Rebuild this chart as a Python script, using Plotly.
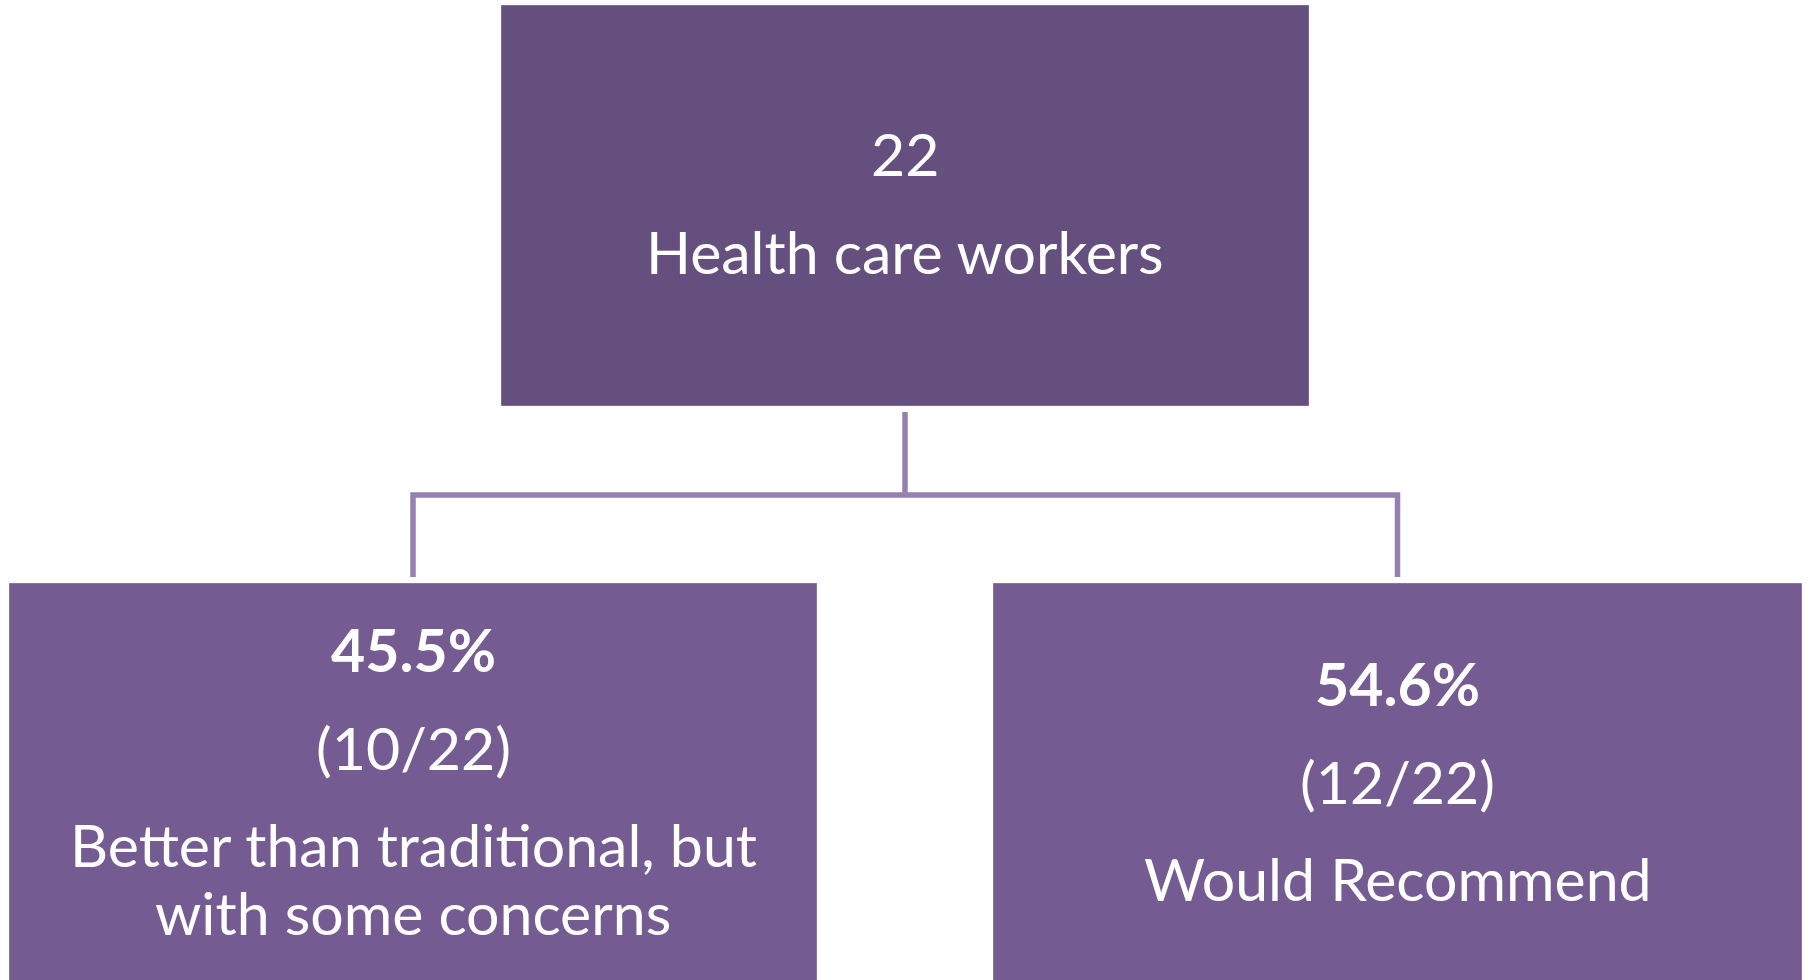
import plotly.graph_objects as go

# ---- data ----
parent_count = "22"
parent_label = "Health care workers"
child_pct = ["45.5%", "54.6%"]
child_frac = ["(10/22)", "(12/22)"]
child_label = [["Better than traditional, but", "with some concerns"], ["Would Recommend"]]

# ---- layout geometry (pixels) ----
W, H = 1810, 980
top_box = (501, 5, 1309, 406)
child_boxes = [(9, 583, 817, 1000), (993, 583, 1802, 1000)]
top_color = "#654F7F"
child_color = "#745B92"
conn_color = "#9580B0"
FONT = "Lato, Calibri, 'Open Sans', sans-serif"
FS = 59
PARA_GAP = 97.5
LINE_GAP = 68
Y_OFF = -1  # annotation center vs cap-middle

fig = go.Figure()
fig.add_trace(go.Scatter(x=[0, W], y=[0, H], mode="markers", marker=dict(opacity=0), hoverinfo="skip", showlegend=False))

shapes = []
def box(b, color):
    shapes.append(dict(type="rect", xref="x", yref="y", x0=b[0], y0=b[1], x1=b[2], y1=b[3],
                       fillcolor=color, line=dict(color="rgba(255,255,255,0.35)", width=1), layer="below"))

box(top_box, top_color)
for b in child_boxes:
    box(b, child_color)

# connectors
pcx = (top_box[0] + top_box[2]) / 2
bar_y = 495
path = f"M {pcx},{top_box[3] + 6} L {pcx},{bar_y}"
cxs = [(b[0] + b[2]) / 2 for b in child_boxes]
path += f" M {cxs[0]},{child_boxes[0][1] - 6} L {cxs[0]},{bar_y} L {cxs[1]},{bar_y} L {cxs[1]},{child_boxes[1][1] - 6}"
shapes.append(dict(type="path", xref="x", yref="y", path=path, line=dict(color=conn_color, width=5.5)))

annotations = []
def stack(lines, cx, cy):
    # lines: list of (text, bold, gap_before)
    total = sum(g for _, _, g in lines[1:])
    y = cy - total / 2
    for i, (t, bold, g) in enumerate(lines):
        if i > 0:
            y += g
        annotations.append(dict(x=cx, y=y + Y_OFF, xref="x", yref="y", text=f"<b>{t}</b>" if bold else t,
                                showarrow=False, xanchor="center", yanchor="middle",
                                font=dict(family=FONT, size=FS, color="white")))

stack([(parent_count, False, 0), (parent_label, False, PARA_GAP)], pcx, (top_box[1] + top_box[3]) / 2 - 2)
cy_child = 782
for i, b in enumerate(child_boxes):
    lines = [(child_pct[i], True, 0), (child_frac[i], False, PARA_GAP)]
    for j, l in enumerate(child_label[i]):
        lines.append((l, False, PARA_GAP if j == 0 else LINE_GAP))
    stack(lines, cxs[i], cy_child)

fig.update_layout(
    width=W, height=H, autosize=False,
    margin=dict(l=0, r=0, t=0, b=0, pad=0),
    paper_bgcolor="white", plot_bgcolor="white",
    xaxis=dict(range=[0, W], visible=False, fixedrange=True),
    yaxis=dict(range=[H, 0], visible=False, fixedrange=True),
    shapes=shapes, annotations=annotations, showlegend=False,
)

fig.write_html("out.html", config={"displayModeBar": False},
               post_script="document.body.style.margin='0';document.body.style.overflow='hidden';")
